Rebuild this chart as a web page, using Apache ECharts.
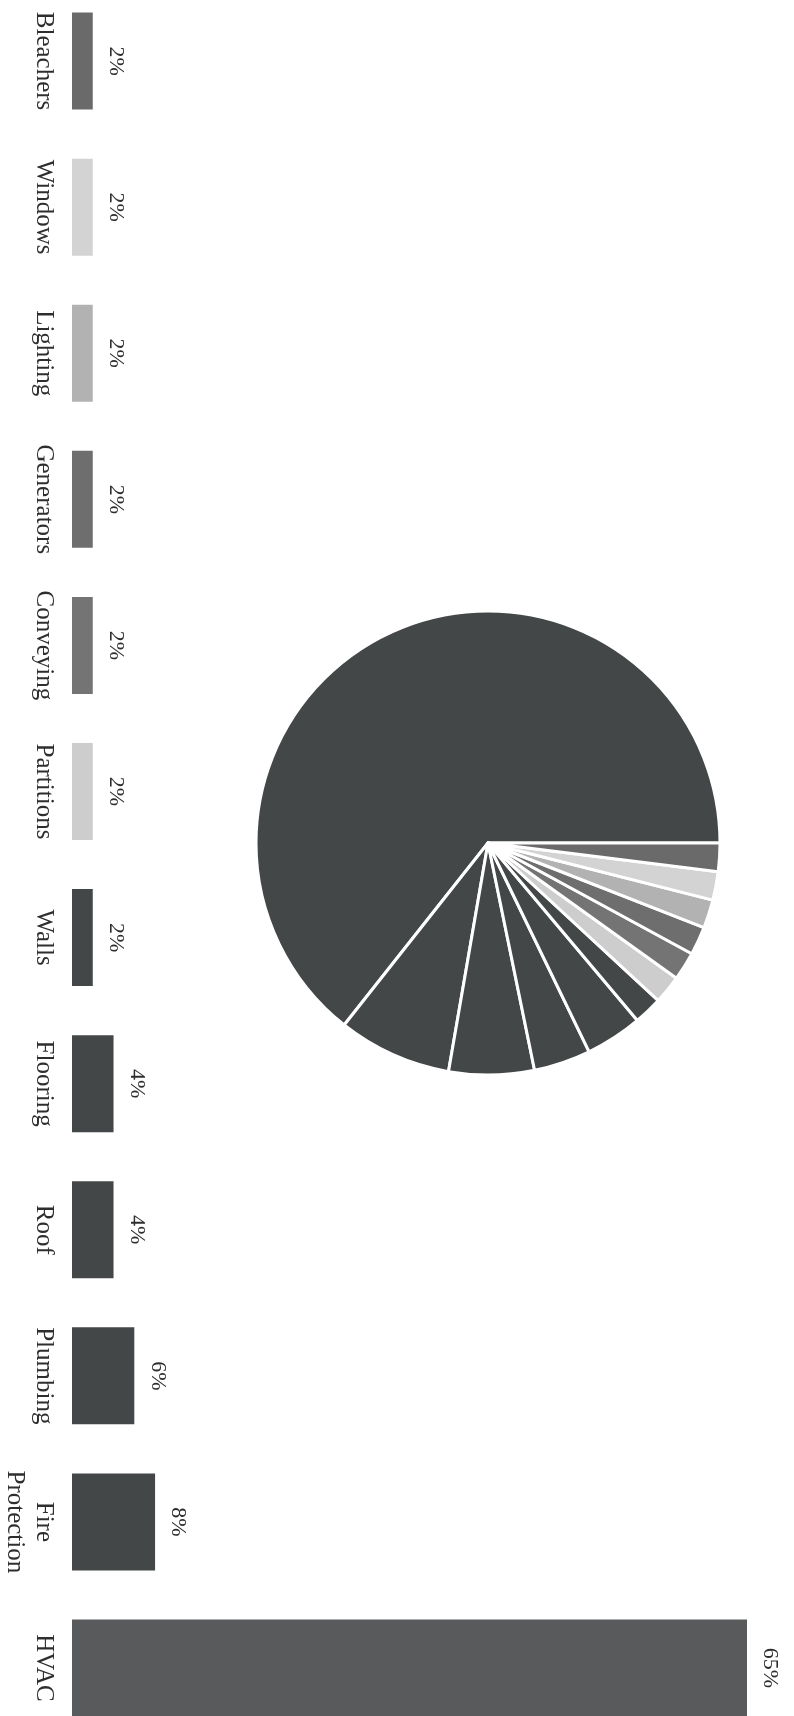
<!DOCTYPE html>
<html>
<head>
<meta charset="utf-8">
<title>Cost share by building system</title>
<script src="https://cdn.jsdelivr.net/npm/echarts@6/dist/echarts.min.js"></script>
<style>
  html, body { margin: 0; padding: 0; background: #ffffff; overflow: hidden; }
  /* The bar list runs past both page edges, so the canvas is a bit taller than the page */
  #chart { position: absolute; left: 0; top: -12px; width: 794px; height: 1753px; }
</style>
</head>
<body>
<div id="chart"></div>
<script>
// Building systems, largest share first (bottom of the bar list, first slice of the pie)
const categories = [
  'HVAC', 'Fire\nProtection', 'Plumbing', 'Roof', 'Flooring', 'Walls',
  'Partitions', 'Conveying', 'Generators', 'Lighting', 'Windows', 'Bleachers'
];
// Share of total cost, percent
const shares = [65, 8, 6, 4, 4, 2, 2, 2, 2, 2, 2, 2];
// Fill shade for each system
const shades = [
  '#585a5b', '#434748', '#434748', '#434748', '#434748', '#434748',
  '#cdcdcd', '#747474', '#6e6e6e', '#b2b2b2', '#d3d3d3', '#6a6a6a'
];

const serif = '"Liberation Serif", "DejaVu Serif", serif';

const chart = echarts.init(document.getElementById('chart'), null, { renderer: 'canvas' });

chart.setOption({
  backgroundColor: '#ffffff',
  animation: false,
  grid: { left: 71, right: 47, top: 0, bottom: 0, containLabel: false },
  xAxis: {
    type: 'value',
    min: 0,
    max: 65,
    show: false
  },
  yAxis: {
    type: 'category',
    data: categories,
    axisLine: { show: false },
    axisTick: { show: false },
    splitLine: { show: false },
    axisLabel: {
      rotate: -90,
      align: 'center',
      verticalAlign: 'top',
      margin: 14,
      fontFamily: serif,
      fontSize: 25,
      lineHeight: 29,
      color: '#2e2e2e'
    }
  },
  series: [
    {
      type: 'bar',
      data: shares.map((v, i) => ({ value: v, itemStyle: { color: shades[i] } })),
      barWidth: 97,
      label: {
        show: true,
        position: 'right',
        distance: 23,
        rotate: -90,
        align: 'center',
        verticalAlign: 'middle',
        formatter: '{c}%',
        fontFamily: serif,
        fontSize: 22,
        color: '#2e2e2e'
      },
      silent: true
    },
    {
      type: 'pie',
      center: [488, 855],
      radius: [0, 232],
      startAngle: 0,
      clockwise: false,
      label: { show: false },
      labelLine: { show: false },
      itemStyle: { borderColor: '#ffffff', borderWidth: 3 },
      data: categories.map((name, i) => ({
        name: name,
        value: shares[i],
        itemStyle: { color: i === 0 ? '#434748' : shades[i] }
      })),
      silent: true
    }
  ]
});
</script>
</body>
</html>
